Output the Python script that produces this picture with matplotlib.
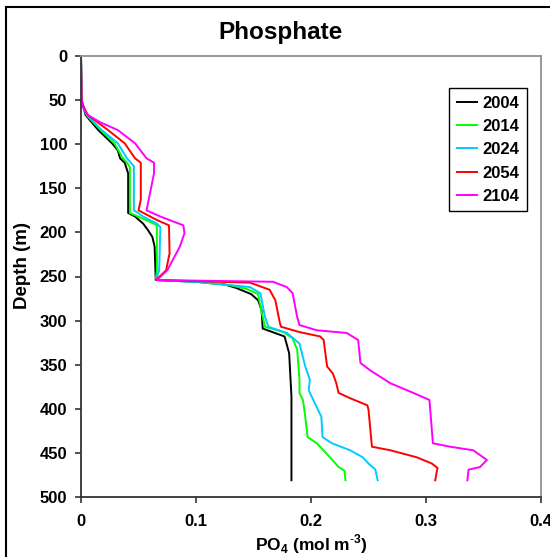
import matplotlib
matplotlib.use("Agg")
import matplotlib.pyplot as plt
from matplotlib.lines import Line2D
from matplotlib.ticker import FuncFormatter

plt.rcParams['font.family'] = ['Liberation Sans', 'DejaVu Sans']
plt.rcParams['mathtext.fontset'] = 'custom'
plt.rcParams['mathtext.rm'] = 'Liberation Sans'
plt.rcParams['mathtext.bf'] = 'Liberation Sans:bold'

years = ["2004", "2014", "2024", "2054", "2104"]
colors = ["#000000", "#00FF00", "#00CCFF", "#FF0000", "#FF00FF"]

depth_2004 = [0, 50, 57, 67, 84, 99, 107, 116, 121, 133, 178, 182, 190, 197, 205, 216, 254,
              256, 259, 263, 270, 277, 288, 309, 318, 337, 386, 481]
po4_2004 = [0, 0.0005, 0.002, 0.004, 0.015, 0.027, 0.032, 0.034, 0.038, 0.041, 0.041, 0.047, 0.054, 0.058, 0.062, 0.064, 0.065,
            0.100, 0.125, 0.135, 0.148, 0.154, 0.157, 0.158, 0.177, 0.181, 0.183, 0.183]

depth_2014 = [0, 50, 57, 67, 84, 99, 116, 121, 126, 178, 188, 192, 243, 254,
              256, 260, 264, 270, 290, 307, 313, 320, 333, 367, 382, 390, 409, 432, 439, 455, 466, 470, 481]
po4_2014 = [0, 0.0005, 0.002, 0.005, 0.017, 0.029, 0.0365, 0.040, 0.0425, 0.0425, 0.060, 0.066, 0.066, 0.065,
            0.100, 0.130, 0.144, 0.154, 0.157, 0.160, 0.176, 0.184, 0.188, 0.190, 0.190, 0.193, 0.195, 0.197, 0.205, 0.2165, 0.224, 0.229, 0.230]

depth_2024 = [0, 50, 57, 67, 84, 99, 116, 125, 175, 182, 190, 194, 243, 254,
              256, 262, 269, 296, 307, 314, 326, 352, 367, 379, 390, 409, 432, 439, 447, 455, 462, 469, 481]
po4_2024 = [0, 0.0005, 0.002, 0.005, 0.018, 0.032, 0.040, 0.046, 0.046, 0.054, 0.066, 0.069, 0.068, 0.065,
            0.100, 0.147, 0.156, 0.160, 0.163, 0.179, 0.190, 0.195, 0.199, 0.198, 0.202, 0.209, 0.210, 0.218, 0.234, 0.245, 0.250, 0.256, 0.258]

depth_2054 = [0, 50, 57, 67, 84, 99, 116, 121, 163, 175, 186, 192, 224, 243, 248, 254,
              257, 265, 277, 303, 307, 313, 318, 322, 352, 360, 371, 382, 388, 396, 401, 443, 447, 455, 462, 467, 481]
po4_2054 = [0, 0.0005, 0.002, 0.006, 0.0235, 0.038, 0.047, 0.052, 0.052, 0.050, 0.066, 0.0765, 0.077, 0.074, 0.070, 0.065,
            0.147, 0.164, 0.169, 0.173, 0.174, 0.190, 0.208, 0.211, 0.214, 0.219, 0.222, 0.224, 0.234, 0.249, 0.250, 0.253, 0.269, 0.292, 0.305, 0.310, 0.308]

depth_2104 = [0, 50, 55, 59, 67, 75, 84, 99, 116, 121, 133, 175, 182, 192, 201, 216, 243, 254,
              256, 262, 269, 296, 305, 311, 314, 322, 348, 356, 371, 382, 390, 439, 443, 447, 458, 466, 469, 481]
po4_2104 = [0, 0.0005, 0.001, 0.002, 0.006, 0.0165, 0.032, 0.047, 0.057, 0.0635, 0.0635, 0.057, 0.069, 0.089, 0.090, 0.086, 0.075, 0.066,
            0.167, 0.179, 0.184, 0.188, 0.190, 0.205, 0.231, 0.241, 0.243, 0.251, 0.269, 0.289, 0.303, 0.306, 0.321, 0.341, 0.353, 0.347, 0.337, 0.336]

series = [(depth_2004, po4_2004), (depth_2014, po4_2014), (depth_2024, po4_2024),
          (depth_2054, po4_2054), (depth_2104, po4_2104)]

x_ticks = [0, 0.1, 0.2, 0.3, 0.4]
y_ticks = [0, 50, 100, 150, 200, 250, 300, 350, 400, 450, 500]

fig = plt.figure(figsize=(5.5, 5.57), dpi=100)
ax = fig.add_axes([81/550, 1-497/557, 460/550, 441/557])

for (d, v), yr, c in zip(series, years, colors):
    ax.plot(v, d, color=c, lw=1.4, label=yr)

ax.set_xlim(0, 0.4)
ax.set_ylim(500, 0)
ax.set_xticks(x_ticks)
ax.set_yticks(y_ticks)
ax.xaxis.set_major_formatter(FuncFormatter(lambda v, p: "0" if v == 0 else f"{v:g}"))
for lab in ax.get_xticklabels() + ax.get_yticklabels():
    lab.set_fontweight('bold')
ax.tick_params(axis='both', direction='out', length=4, width=1.2, labelsize=12, color='#333333')
ax.tick_params(axis='x', pad=8)
ax.tick_params(axis='y', pad=6)

ax.spines['left'].set_color('#333333')
ax.spines['bottom'].set_color('#333333')
ax.spines['left'].set_linewidth(1.3)
ax.spines['bottom'].set_linewidth(1.3)
ax.spines['top'].set_color('#909090')
ax.spines['right'].set_color('#909090')
ax.spines['top'].set_linewidth(1.3)
ax.spines['right'].set_linewidth(1.3)

ax.set_xlabel(r"PO$_{\mathbf{4}}$ (mol m$^{\mathbf{\text{-}3}}$)", fontsize=12.5, fontweight='bold', labelpad=3)
ax.set_ylabel("Depth (m)", fontsize=13.5, fontweight='bold')
ax.yaxis.set_label_coords((31 - 81) / 460, 0.526)

fig.text(281/550, 1-32/557, "Phosphate", ha='center', va='center', fontsize=17.5, fontweight='bold')

leg = ax.legend(loc='upper left', bbox_to_anchor=(0.8, 0.9274), borderaxespad=0,
                frameon=True, fancybox=False, edgecolor='black', framealpha=1,
                prop={'weight': 'bold', 'size': 12}, handlelength=1.25, handletextpad=0.3,
                labelspacing=0.5, borderpad=0.45)
leg.get_frame().set_linewidth(1.0)

fig.add_artist(Line2D([5.5/550, 5.5/550], [0, 1-6.5/557], color='black', lw=1.5))
fig.add_artist(Line2D([5.5/550, 1], [1-6.5/557, 1-6.5/557], color='black', lw=1.5))

fig.savefig("out.png", dpi=100)
